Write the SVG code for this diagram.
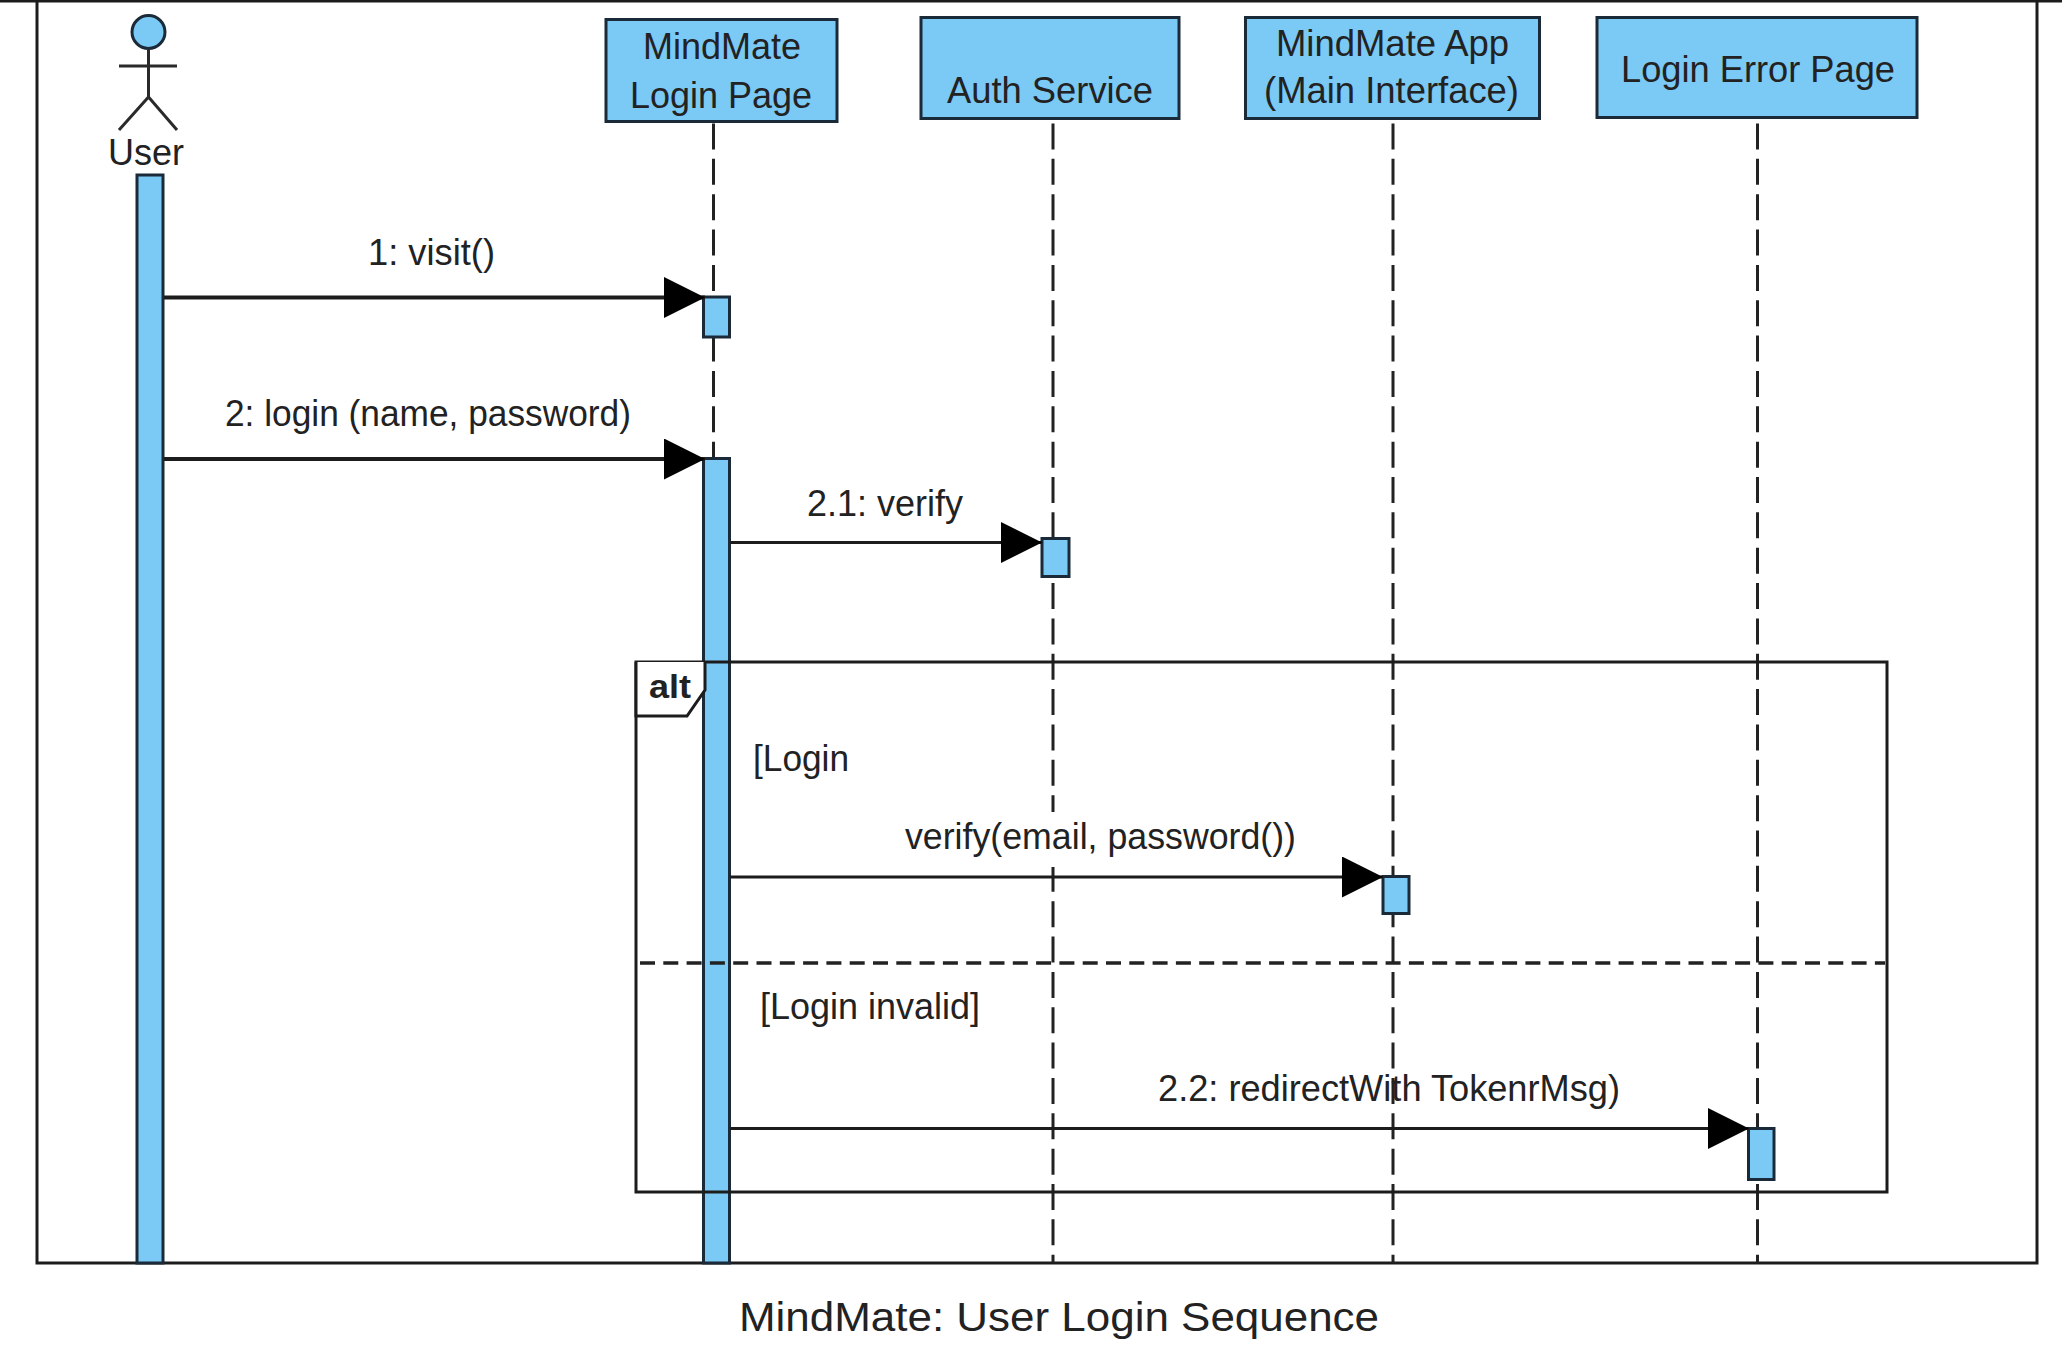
<svg xmlns="http://www.w3.org/2000/svg" width="2062" height="1353" viewBox="0 0 2062 1353">
<style>
.frame{fill:none;stroke:#1c1c1c;stroke-width:3}
.box{fill:#7bc9f5;stroke:#1b2a38;stroke-width:3}
.act{fill:#7bc9f5;stroke:#1b2a38;stroke-width:3}
.life{fill:none;stroke:#222;stroke-width:3;stroke-dasharray:26 9.35}
.msg{fill:none;stroke:#1c1c1c;stroke-width:3;marker-end:url(#arrow)}
.thick{stroke-width:4}
.sep{fill:none;stroke:#222;stroke-width:3.500;stroke-dasharray:15 8.300}
.stick{fill:none;stroke:#2a2a2a;stroke-width:3}
text{font-family:"Liberation Sans",Arial,sans-serif;font-size:36px;fill:#222}
.title{font-size:41px}
.bold{font-weight:bold;font-size:34px}
</style>
<defs>
<marker id="arrow" markerUnits="userSpaceOnUse" markerWidth="42" markerHeight="42" refX="41" refY="20.5" orient="auto">
<path d="M0,0 L41,20.5 L0,41 Z" fill="#000"/>
</marker>
</defs>
<rect width="2062" height="1353" fill="#fff"/>
<g id="outer-frame">
<path class="frame" d="M0,1 H2062"/>
<path class="frame" d="M37,0 V1263 H2037 V0"/>
</g>
<g id="lifelines">
<path class="life" d="M713.5,123.500 V1263"/>
<path class="life" d="M1053,123.500 V1263"/>
<path class="life" d="M1393,123.500 V1263"/>
<path class="life" d="M1757.5,123.500 V1263"/>
<rect x="1045" y="812" width="16" height="55" fill="#fff"/>
</g>
<g id="actor-user">
<circle class="box" cx="148.500" cy="32" r="16.500"/>
<path class="stick" d="M148.500,48 V97 M119,66 H177 M148.500,97 L119,130 M148.500,97 L177,130"/>
<text x="108" y="164.500" textLength="76" lengthAdjust="spacingAndGlyphs">User</text>
<rect class="act" x="137" y="175" width="26" height="1088"/>
</g>
<g id="node-login-page">
<rect class="box" x="606" y="19.500" width="231" height="102"/>
<text x="643" y="59" textLength="158" lengthAdjust="spacingAndGlyphs">MindMate</text>
<text x="630" y="107.500" textLength="182" lengthAdjust="spacingAndGlyphs">Login Page</text>
</g>
<g id="node-auth-service">
<rect class="box" x="921" y="17.500" width="258" height="101"/>
<text x="947" y="102.500" textLength="206" lengthAdjust="spacingAndGlyphs">Auth Service</text>
</g>
<g id="node-main-app">
<rect class="box" x="1245.500" y="17.500" width="294" height="101"/>
<text x="1276" y="56" textLength="233" lengthAdjust="spacingAndGlyphs">MindMate App</text>
<text x="1264" y="102.500" textLength="255" lengthAdjust="spacingAndGlyphs">(Main Interface)</text>
</g>
<g id="node-error-page">
<rect class="box" x="1597" y="17.500" width="320" height="100"/>
<text x="1621" y="81.500" textLength="274" lengthAdjust="spacingAndGlyphs">Login Error Page</text>
</g>
<g id="activations">
<rect class="act" x="703.500" y="297" width="26" height="40"/>
<rect class="act" x="703.500" y="458.500" width="26" height="804.500"/>
<rect class="act" x="1042" y="538.500" width="27" height="38"/>
<rect class="act" x="1383" y="876.500" width="26" height="37"/>
<rect class="act" x="1748.500" y="1128.500" width="25.500" height="51"/>
</g>
<g id="alt-fragment">
<path class="frame" d="M636,662 H1887 V1192 H636 Z"/>
<path d="M636,716 H687 L705,690 V662 H636 Z" fill="#fff" stroke="none"/>
<path class="frame" d="M636,662 V716 H687 L705,690 V662"/>
<path class="sep" d="M640,963 H1885"/>
<text class="bold" x="649" y="697.500" textLength="42" lengthAdjust="spacingAndGlyphs">alt</text>
<text x="753" y="771" textLength="96" lengthAdjust="spacingAndGlyphs">[Login</text>
<text x="760" y="1018.500" textLength="220" lengthAdjust="spacingAndGlyphs">[Login invalid]</text>
</g>
<g id="connectors">
<path class="msg thick" d="M164,297.500 H705"/>
<path class="msg thick" d="M164,459 H705"/>
<path class="msg" d="M730,542.500 H1042"/>
<path class="msg" d="M730,877 H1383"/>
<path class="msg" d="M730,1128.500 H1749"/>
<text x="368" y="264.500" textLength="127" lengthAdjust="spacingAndGlyphs">1: visit()</text>
<text x="225" y="425.500" textLength="406" lengthAdjust="spacingAndGlyphs">2: login (name, password)</text>
<text x="807" y="515.500" textLength="156" lengthAdjust="spacingAndGlyphs">2.1: verify</text>
<text x="905" y="848.500" textLength="391" lengthAdjust="spacingAndGlyphs">verify(email, password())</text>
<text x="1158" y="1100.500" textLength="462" lengthAdjust="spacingAndGlyphs">2.2: redirectWith TokenrMsg)</text>
</g>
<text class="title" x="739" y="1331" textLength="640" lengthAdjust="spacingAndGlyphs">MindMate: User Login Sequence</text>
</svg>
